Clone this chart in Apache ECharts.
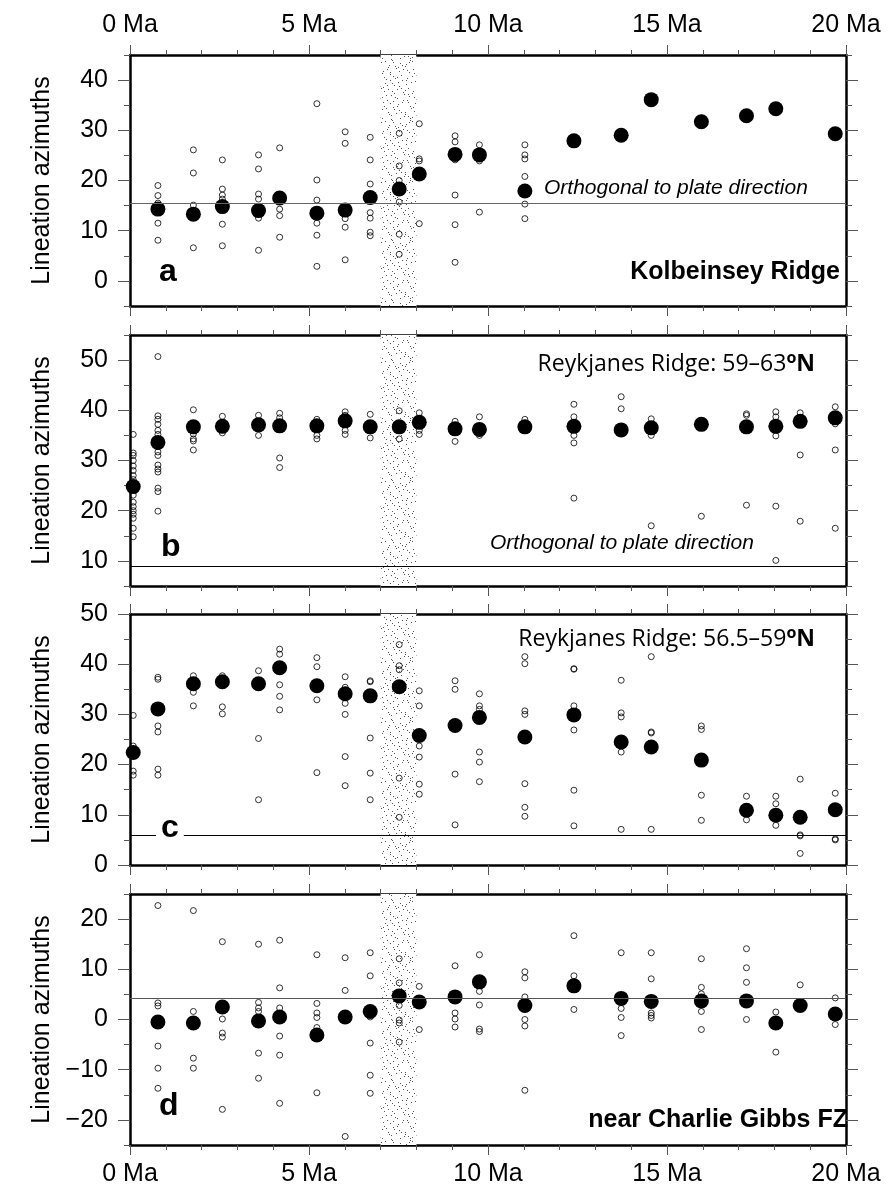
<!DOCTYPE html>
<html>
<head>
<meta charset="utf-8">
<script src="https://cdn.jsdelivr.net/npm/echarts@6/dist/echarts.min.js"></script>
<style>
html,body{margin:0;padding:0;background:#fff;}
#chart{width:891px;height:1192px;}
</style>
</head>
<body>
<div id="chart"></div>
<script>
// ---- data ----
const ages = [0.09, 0.78, 1.77, 2.58, 3.59, 4.18, 5.22, 6.01, 6.71, 7.52, 8.08, 9.08, 9.76, 11.03, 12.40, 13.72, 14.56, 15.96, 17.22, 18.04, 18.72, 19.70];
const xTickValues = [0, 5, 10, 15, 20];
const bandStart = 7, bandEnd = 8;

const meanA = [null, 14.3, 13.3, 14.8, 14.0, 16.5, 13.5, 14.1, 16.6, 18.3, 21.3, 25.2, 25.1, 17.9, 27.9, 29.0, 36.1, 31.7, 32.9, 34.3, null, 29.3];
const samplesA = [
  [], [19.0, 17.0, 15.5, 11.5, 8.1], [26.1, 21.5, 15.1, 6.6], [24.1, 18.3, 17.1, 16.3, 11.3, 7.0],
  [25.1, 22.3, 17.3, 16.3, 12.5, 6.1], [26.5, 14.3, 13.0, 8.7], [35.3, 20.1, 16.1, 11.5, 9.1, 2.9],
  [29.7, 27.4, 12.4, 10.7, 4.2], [28.6, 24.1, 19.3, 13.6, 12.5, 9.7, 9.0], [29.4, 22.9, 20.0, 15.7, 9.3, 5.3],
  [31.3, 24.3, 23.9, 11.4], [28.9, 27.7, 24.1, 17.1, 11.2, 3.7], [27.1, 23.9, 13.7],
  [27.1, 25.1, 24.3, 20.8, 15.3, 12.4], [], [], [], [], [], [], [], []
];

const meanB = [24.8, 33.6, 36.7, 36.8, 37.1, 36.9, 36.9, 37.9, 36.7, 36.7, 37.6, 36.3, 36.2, 36.7, 36.8, 36.1, 36.5, 37.2, 36.7, 36.8, 37.8, 38.5];
const samplesB = [
  [35.2, 31.5, 31.0, 30.0, 28.9, 28.0, 27.0, 26.2, 23.1, 21.7, 20.8, 20.0, 19.3, 18.5, 16.5, 14.8],
  [50.7, 38.9, 38.2, 37.2, 36.0, 35.2, 31.7, 31.0, 29.1, 28.3, 27.7, 24.5, 23.8, 19.9],
  [40.1, 35.3, 34.3, 33.9, 32.1], [38.8, 35.5], [39.0, 35.0], [39.4, 38.5, 30.5, 28.6],
  [38.2, 35.0, 34.3], [39.7, 39.0, 36.0, 35.2], [39.2, 34.5], [39.9, 34.3], [39.5, 36.0, 35.2],
  [37.8, 33.8], [38.7, 35.0], [38.2], [41.2, 38.7, 35.0, 33.5, 22.5], [42.7, 40.3],
  [38.3, 35.0, 17.0], [18.9], [39.3, 39.0, 21.1], [39.7, 38.7, 34.9, 20.9, 10.1],
  [39.5, 31.1, 17.9], [40.7, 37.3, 32.1, 16.5]
];

const meanC = [22.4, 31.1, 36.1, 36.5, 36.1, 39.3, 35.7, 34.1, 33.7, 35.5, 25.8, 27.8, 29.4, 25.5, 29.9, 24.5, 23.5, 20.9, 10.9, 9.9, 9.5, 11.0];
const samplesC = [
  [29.8, 23.7, 18.7, 17.9], [37.4, 37.0, 27.7, 26.5, 19.1, 17.9], [37.7, 34.4, 31.7], [37.7, 31.5, 30.1],
  [38.7, 25.2, 13.0], [43.0, 42.0, 35.9, 33.6, 30.9], [41.3, 39.5, 32.9, 18.4],
  [37.5, 35.4, 32.2, 30.0, 21.6, 15.8], [36.7, 36.5, 25.3, 18.3, 13.0], [43.9, 39.7, 38.9, 17.3, 9.5],
  [34.7, 31.7, 23.7, 21.5, 16.1, 14.1], [36.7, 35.0, 18.1, 8.0], [34.1, 31.7, 31.0, 22.5, 20.5, 16.6],
  [41.5, 40.1, 30.7, 30.0, 16.2, 11.5, 9.7], [39.1, 39.0, 31.7, 26.9, 14.9, 7.8],
  [36.8, 30.3, 29.5, 22.5, 7.1], [41.5, 26.5, 26.3, 7.1], [27.7, 27.0, 13.9, 8.9],
  [13.7, 9.0], [13.7, 12.2, 7.9], [17.1, 6.0, 5.8, 2.3], [14.3, 5.2, 5.0]
];

const meanD = [null, -0.5, -0.7, 2.5, -0.3, 0.5, -3.1, 0.5, 1.6, 4.7, 3.5, 4.5, 7.5, 2.8, 6.7, 4.2, 3.6, 3.7, 3.7, -0.7, 2.8, 1.1];
const samplesD = [
  [], [22.7, 3.3, 2.7, -5.3, -9.7, -13.7], [21.7, 1.6, -7.7, -9.7], [15.5, 0.1, -2.7, -3.5, -17.9],
  [15.0, 3.4, 2.3, 1.6, -6.7, -11.7], [15.8, 6.3, 2.3, -3.3, -7.1, -16.7], [12.9, 3.2, 1.3, 0.4, -1.6, -14.6],
  [12.3, 5.8, -23.3], [13.3, 8.7, 0.5, -4.7, -11.1, -14.7], [12.1, 7.3, 2.8, -0.1, -0.7, -4.5],
  [6.6, -2.0], [10.7, 1.3, 0.1, -1.5], [12.9, 5.6, 2.9, -1.9, -2.4], [9.5, 8.3, 4.5, 0.0, -1.3, -14.1],
  [16.7, 8.7, 2.0], [13.3, 2.2, 0.4, -3.2], [13.3, 8.1, 1.3, 0.8, 0.3], [12.1, 6.4, 5.1, 1.6, -2.0],
  [14.1, 10.3, 7.4, 0.0], [1.5, -6.5], [6.9], [4.3, -1.0]
];

const refLines = [15.4, 9, 6, 4.2];
const yMins = [-5, 5, 0, -25];
const yMaxs = [45, 55, 50, 25];
const yTickLabels = [[0, 10, 20, 30, 40], [10, 20, 30, 40, 50], [0, 10, 20, 30, 40, 50], [-20, -10, 0, 10, 20]];

// ---- build ----
const means = [meanA, meanB, meanC, meanD];
const samples = [samplesA, samplesB, samplesC, samplesD];
const refColors = ['#666', '#000', '#000', '#555'];
const gridTops = [55, 335, 614, 894];
const gridH = 251;
const FONT = '"Liberation Sans", Arial, Helvetica, sans-serif';
const AXFS = 25;

// stipple texture (quasi-random Halton dots, styling only)
const PS = 60;
const pat = document.createElement('canvas');
pat.width = PS; pat.height = PS;
(function () {
  const ctx = pat.getContext('2d');
  ctx.fillStyle = '#fff'; ctx.fillRect(0, 0, PS, PS);
  ctx.fillStyle = '#555';
  const halton = (i, b) => { let f = 1, r = 0; while (i > 0) { f /= b; r += f * (i % b); i = Math.floor(i / b); } return r; };
  for (let k = 1; k <= 180; k++) {
    ctx.fillRect(Math.floor(halton(k, 2) * PS), Math.floor(halton(k, 3) * PS), 1, 1);
  }
})();

const grids = [], xAxes = [], yAxes = [], series = [];
const fmtY = v => (v < 0 ? '\u2212' + Math.abs(v) : String(v));

for (let g = 0; g < 4; g++) {
  grids.push({ left: 130, right: 45, top: gridTops[g], height: gridH, containLabel: false });
  ['bottom', 'top'].forEach(pos => {
    const showLabel = (g === 0 && pos === 'top') || (g === 3 && pos === 'bottom');
    xAxes.push({
      gridIndex: g, type: 'value', position: pos, min: 0, max: 20, interval: 5,
      axisLine: { show: true, onZero: false, lineStyle: { color: '#000', width: 2.5 } },
      axisTick: { show: true, length: 10, lineStyle: { color: '#555', width: 1 } },
      minorTick: { show: true, splitNumber: 5, length: 5, lineStyle: { color: '#555', width: 1 } },
      splitLine: { show: false }, minorSplitLine: { show: false },
      axisLabel: { show: showLabel, margin: 17, fontSize: AXFS, fontFamily: FONT, color: '#000',
        formatter: v => (xTickValues.indexOf(v) >= 0 ? v + ' Ma' : '') }
    });
  });
  ['left', 'right'].forEach(pos => {
    yAxes.push({
      gridIndex: g, type: 'value', position: pos, min: yMins[g], max: yMaxs[g],
      name: pos === 'left' ? 'Lineation azimuths' : '', nameLocation: 'middle', nameGap: 75,
      nameTextStyle: { fontSize: AXFS, fontFamily: FONT, color: '#000' },
      axisLine: { show: true, onZero: false, lineStyle: { color: '#000', width: 2.5 } },
      axisTick: { show: true, length: 12, customValues: yTickLabels[g], lineStyle: { color: '#555', width: 1 } },
      axisLabel: { show: pos === 'left', customValues: yTickLabels[g], margin: 22, fontSize: AXFS,
        fontFamily: FONT, color: '#000', formatter: fmtY },
      splitLine: { show: false }
    });
    yAxes.push({
      gridIndex: g, type: 'value', position: pos, min: yMins[g], max: yMaxs[g], interval: 5,
      axisLine: { show: false, onZero: false },
      axisTick: { show: true, length: 6, lineStyle: { color: '#555', width: 1 } },
      axisLabel: { show: false }, splitLine: { show: false }
    });
  });
  const yIdx = g * 4;
  const openData = [];
  samples[g].forEach((arr, i) => arr.forEach(v => openData.push([ages[i], v])));
  const meanData = [];
  means[g].forEach((v, i) => { if (v !== null) meanData.push([ages[i], v]); });
  series.push({
    type: 'scatter', xAxisIndex: g * 2, yAxisIndex: yIdx, data: openData, symbol: 'circle', symbolSize: 6,
    itemStyle: { color: 'rgba(0,0,0,0)', borderColor: '#000', borderWidth: 0.8, opacity: 1 }, z: 3, silent: true,
    markArea: { silent: true, itemStyle: { color: { image: pat, repeat: 'repeat' }, opacity: 1 },
      data: [[{ xAxis: bandStart }, { xAxis: bandEnd }]] }
  });
  series.push({
    type: 'scatter', xAxisIndex: g * 2, yAxisIndex: yIdx, data: meanData, symbol: 'circle', symbolSize: 15,
    itemStyle: { color: '#000', opacity: 1 }, z: 4, silent: true,
    markLine: { silent: true, symbol: 'none', label: { show: false },
      lineStyle: { color: refColors[g], width: 1, type: 'solid', opacity: 1 }, data: [{ yAxis: refLines[g] }] }
  });
}

const txt = (x, y, text, font, align, extra) => Object.assign({
  type: 'text', z: 100, style: Object.assign({ x: x, y: y, text: text, font: font, fill: '#000',
    textAlign: align, textVerticalAlign: 'middle' }, extra || {})
});
const boldLetter = 'bold 32px ' + FONT;
const REYK = '"Open Sans", "Noto Sans", sans-serif';
const reykRich = {
  n: { fontSize: 23, fontFamily: REYK, color: '#000' },
  o: { fontSize: 16, fontWeight: 'bold', fontFamily: REYK, color: '#000', verticalAlign: 'top', lineHeight: 27 },
  N: { fontSize: 23, fontWeight: 'bold', fontFamily: REYK, color: '#000' }
};

const graphics = [
  txt(159, 272, 'a', boldLetter, 'left'),
  txt(840, 272, 'Kolbeinsey Ridge', 'bold 25px ' + FONT, 'right'),
  txt(544, 188, 'Orthogonal to plate direction', 'italic 21px ' + FONT, 'left'),
  txt(158, 547, 'b', boldLetter, 'left', { backgroundColor: '#fff', padding: [0, 3, 6, 3] }),
  { type: 'text', z: 100, style: { x: 815, y: 364, textAlign: 'right', textVerticalAlign: 'middle',
    text: '{n|Reykjanes Ridge: 59\u201363}{o|o}{N|N}', rich: reykRich } },
  txt(490, 543, 'Orthogonal to plate direction', 'italic 21px ' + FONT, 'left'),
  txt(156, 828, 'c', boldLetter, 'left', { backgroundColor: '#fff', padding: [0, 5, 6, 5] }),
  { type: 'text', z: 100, style: { x: 815, y: 638, textAlign: 'right', textVerticalAlign: 'middle',
    text: '{n|Reykjanes Ridge: 56.5\u201359}{o|o}{N|N}', rich: reykRich, backgroundColor: '#fff', padding: [2, 0, 0, 2] } },
  txt(159, 1106, 'd', boldLetter, 'left'),
  txt(848, 1120, 'near Charlie Gibbs FZ', 'bold 25px ' + FONT, 'right')
];

const chart = echarts.init(document.getElementById('chart'), null, { renderer: 'canvas' });
chart.setOption({
  animation: false,
  backgroundColor: '#fff',
  grid: grids, xAxis: xAxes, yAxis: yAxes, series: series, graphic: graphics
});
</script>
</body>
</html>
